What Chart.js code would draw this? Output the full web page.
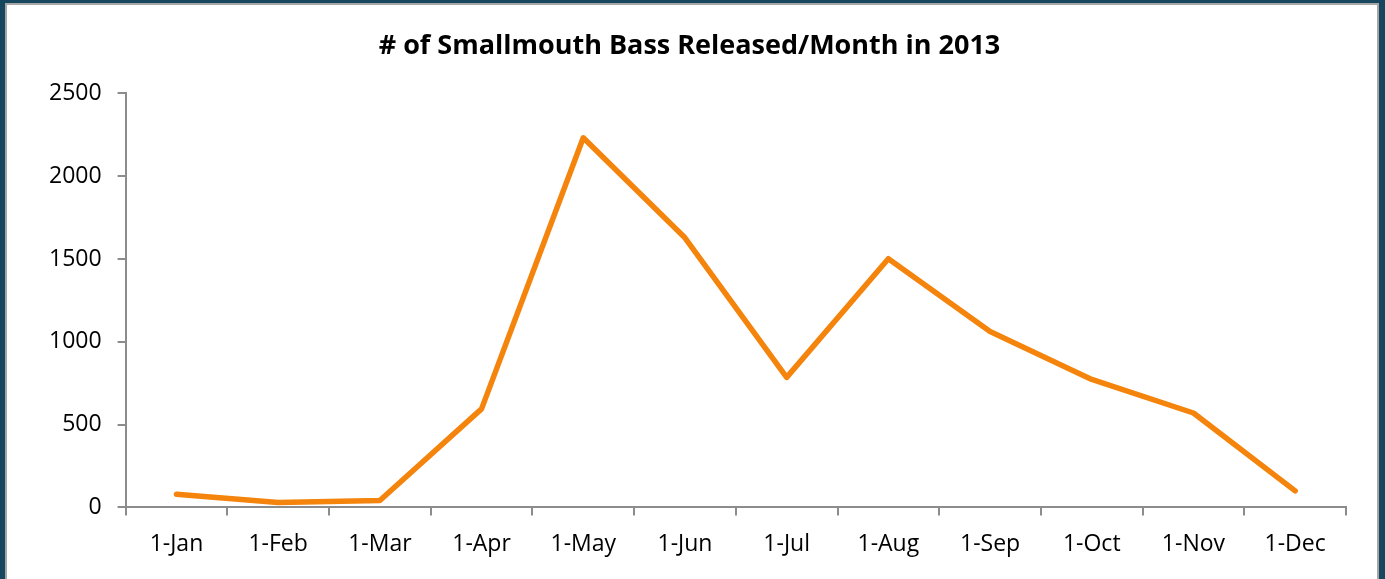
<!DOCTYPE html>
<html>
<head>
<meta charset="utf-8">
<script src="https://cdn.jsdelivr.net/npm/chart.js@4"></script>
<style>
    html, body { margin: 0; padding: 0; }
    body { width: 1385px; height: 579px; background: #17465f; overflow: hidden; position: relative; }
    #box { position: absolute; left: 5px; top: 3px; width: 1374px; height: 576px; background: #fff; border-left: 2px solid #a6a6a6; border-top: 2px solid #a6a6a6; border-right: 2px solid #a6a6a6; box-sizing: border-box; }
    canvas { display: block; }
</style>
</head>
<body>
<div id="box"><canvas id="lineGraph" width="1370" height="574"></canvas></div>
<script>
// month labels along the bottom
const months = ["1-Jan", "1-Feb", "1-Mar", "1-Apr", "1-May", "1-Jun", "1-Jul", "1-Aug", "1-Sep", "1-Oct", "1-Nov", "1-Dec"];
// fish released each month
const released = [80, 30, 42, 595, 2232, 1628, 785, 1502, 1062, 773, 570, 100];
// y axis labels
const yTicks = [0, 500, 1000, 1500, 2000, 2500];

let lineGraph = new Chart("lineGraph", {
    type: "line",
    data: {
        labels: months,
        datasets: [{
            data: released,
            borderColor: "#f5840c",
            borderWidth: 5.5,
            pointRadius: 0,
            tension: 0,
            borderCapStyle: "round",
            borderJoinStyle: "round"
        }]
    },
    options: {
        responsive: false,
        animation: false,
        devicePixelRatio: 1,
        layout: { padding: { left: 26, right: 31, top: 0, bottom: 6 } },
        plugins: {
            legend: { display: false },
            tooltip: { enabled: false },
            title: {
                display: true,
                text: "# of Smallmouth Bass Released/Month in 2013",
                color: "#000",
                font: { family: "Open Sans", size: 27, weight: "bold" },
                padding: { top: 25, bottom: 31 }
            }
        },
        scales: {
            x: {
                offset: true,
                grid: { offset: true, drawOnChartArea: false, tickLength: 8, color: "#8c8c8c", lineWidth: 2 },
                border: { color: "#8c8c8c", width: 2 },
                ticks: { color: "#000", font: { family: "Open Sans", size: 23 }, padding: 15, maxRotation: 0, autoSkip: false }
            },
            y: {
                min: 0,
                max: 2500,
                afterBuildTicks: (axis) => { axis.ticks = yTicks.map(v => ({ value: v })) },
                grid: { drawOnChartArea: false, tickLength: 8, color: "#8c8c8c", lineWidth: 2 },
                border: { color: "#8c8c8c", width: 2 },
                ticks: { color: "#000", font: { family: "Open Sans", size: 23 }, padding: 16, callback: (v) => String(v) }
            }
        }
    }
});
</script>
</body>
</html>
